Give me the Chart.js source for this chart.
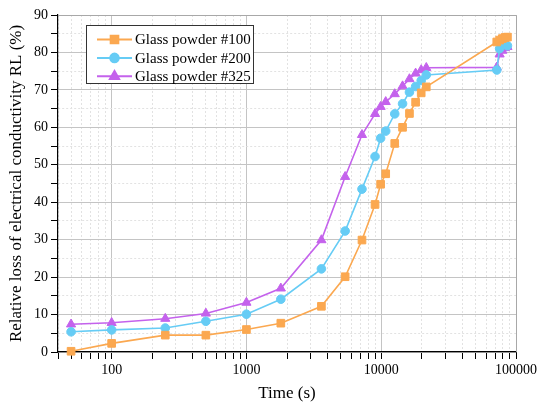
<!DOCTYPE html>
<html>
<head>
<meta charset="utf-8">
<script src="https://cdn.jsdelivr.net/npm/chart.js@4.4.1/dist/chart.umd.min.js"></script>
<style>
    html, body { margin: 0; padding: 0; background: #fff; }
    #wrap { width: 540px; height: 404px; }
</style>
</head>
<body>
<div id="wrap"><canvas id="rlChart" width="540" height="404"></canvas></div>
<script>
// ===== DATA =====
const timeSec = [50, 100, 250, 500, 1000, 1800, 3600, 5400, 7200, 9000, 9900, 10800,
                 12600, 14400, 16200, 18000, 19800, 21600, 72000, 75600, 79200, 82800, 86400];
const rl100 = [0.2, 2.3, 4.5, 4.5, 6.0, 7.7, 12.2, 20.1, 29.9, 39.4, 44.8, 47.6,
               55.7, 60.0, 63.7, 66.7, 69.2, 70.8, 82.8, 83.3, 83.7, 84.0, 84.1];
const rl200 = [5.4, 5.9, 6.4, 8.2, 10.1, 14.1, 22.2, 32.3, 43.5, 52.2, 57.1, 59.0,
               63.6, 66.3, 69.4, 70.9, 72.5, 74.0, 75.3, 81.0, 82.0, 82.3, 81.8];
const rl325 = [7.4, 7.8, 8.9, 10.3, 13.2, 17.0, 29.9, 46.8, 58.0, 63.6, 65.5, 66.8,
               68.9, 71.0, 72.9, 74.4, 75.3, 75.9, 76.0, 79.5, 80.5, 81.2, 81.5];
const seriesNames = ['Glass powder #100', 'Glass powder #200', 'Glass powder #325'];
const xTickLabels = [100, 1000, 10000, 100000];

const colOrange = '#FBA850';
const colBlue = '#66CCF5';
const colPurple = '#C462EC';

const SERIF = '"Liberation Serif", "Times New Roman", serif';

function pts(ys) {
    return timeSec.map((t, i) => ({ x: t, y: ys[i] }));
}

function isDecade(v) {
    const l = Math.log10(v);
    return Math.abs(l - Math.round(l)) < 1e-9;
}

// ===== LEGEND + FRAME PLUGIN =====
const framePlugin = {
    id: 'frame',
    beforeDatasetsDraw(chart) {
        const { ctx, chartArea: a } = chart;
        ctx.save();
        ctx.strokeStyle = '#a8a8a8';
        ctx.lineWidth = 1;
        ctx.beginPath();
        ctx.moveTo(a.left, a.top + 0.5);
        ctx.lineTo(a.right + 0.5, a.top + 0.5);
        ctx.lineTo(a.right + 0.5, a.bottom);
        ctx.stroke();
        ctx.restore();
    },
    afterDraw(chart) {
        const { ctx, chartArea: a } = chart;
        const bx = a.left + 28, by = a.top + 10, bw = 167, bh = 58;
        ctx.save();
        ctx.fillStyle = '#fff';
        ctx.fillRect(bx, by, bw, bh);
        ctx.strokeStyle = '#333';
        ctx.lineWidth = 1;
        ctx.strokeRect(bx + 0.5, by + 0.5, bw, bh);
        chart.data.datasets.forEach((ds, i) => {
            const y = by + 14.5 + i * 18.4;
            const x0 = bx + 11, x1 = bx + 46;
            ctx.strokeStyle = ds.borderColor;
            ctx.lineWidth = 2;
            ctx.beginPath();
            ctx.moveTo(x0, y);
            ctx.lineTo(x1, y);
            ctx.stroke();
            Chart.helpers.drawPoint(ctx, {
                pointStyle: ds.pointStyle,
                radius: ds.pointRadius,
                borderWidth: 1,
                rotation: 0
            }, (x0 + x1) / 2, y);
            ctx.fillStyle = ds.borderColor;
            ctx.fill();
            ctx.fillStyle = '#000';
            ctx.font = '15px ' + SERIF;
            ctx.textBaseline = 'middle';
            ctx.textAlign = 'left';
            ctx.fillText(ds.label, x1 + 3, y + 1);
        });
        ctx.restore();
    }
};

// ===== CHART =====
function mkSet(label, ys, color, style, radius) {
    return {
        label: label,
        data: pts(ys),
        borderColor: color,
        backgroundColor: color,
        pointBackgroundColor: color,
        pointBorderColor: color,
        borderWidth: 1.6,
        pointStyle: style,
        pointRadius: radius,
        pointBorderWidth: 1,
        tension: 0,
        clip: false
    };
}

new Chart(document.getElementById('rlChart'), {
    type: 'line',
    data: {
        datasets: [
            mkSet(seriesNames[0], rl100, colOrange, 'rect', 5.4),
            mkSet(seriesNames[1], rl200, colBlue, 'circle', 4.3),
            mkSet(seriesNames[2], rl325, colPurple, 'triangle', 5.3)
        ]
    },
    options: {
        responsive: false,
        animation: false,
        layout: { padding: { top: 15, right: 23, left: 0, bottom: 0 } },
        plugins: {
            legend: { display: false },
            tooltip: { enabled: false }
        },
        scales: {
            x: {
                type: 'logarithmic',
                min: 40,
                max: 100000,
                afterFit: s => { s.height = 52; },
                afterBuildTicks: s => {
                    const t = [];
                    for (let e = 1; e <= 5; e++) {
                        for (let m = 1; m <= 9; m++) {
                            const v = m * Math.pow(10, e);
                            if (v >= 40 && v <= 100000) t.push({ value: v, major: isDecade(v) });
                        }
                    }
                    s.ticks = t;
                },
                ticks: {
                    autoSkip: false,
                    maxRotation: 0,
                    color: '#000',
                    padding: 3,
                    font: { family: SERIF, size: 14 },
                    callback: v => xTickLabels.includes(v) ? String(v) : ''
                },
                grid: {
                    color: c => (c.tick && isDecade(c.tick.value)) ? '#c4c4c4' : '#e2e2e2',
                    lineWidth: 1,
                    tickColor: '#000',
                    tickLength: 7
                },
                border: {
                    color: '#000',
                    width: 1.2,
                    dash: c => (c.tick && !isDecade(c.tick.value)) ? [2, 2] : []
                },
                title: {
                    display: true,
                    text: 'Time (s)',
                    color: '#000',
                    font: { family: SERIF, size: 17 },
                    padding: { top: 0, bottom: 0 }
                }
            },
            y: {
                min: 0,
                max: 90,
                afterFit: s => { s.width = 58; },
                ticks: {
                    stepSize: 5,
                    autoSkip: false,
                    color: '#000',
                    padding: 3,
                    font: { family: SERIF, size: 14 },
                    callback: v => (v % 10 === 0) ? String(v) : ''
                },
                grid: {
                    color: c => (c.tick && c.tick.value % 10 === 0) ? '#c4c4c4' : '#e2e2e2',
                    lineWidth: 1,
                    tickColor: '#000',
                    tickLength: 7
                },
                border: {
                    color: '#000',
                    width: 1.2,
                    dash: c => (c.tick && c.tick.value % 10 !== 0) ? [2, 2] : []
                },
                title: {
                    display: true,
                    text: 'Relative loss of electrical conductivity RL (%)',
                    color: '#000',
                    font: { family: SERIF, size: 17 },
                    padding: { top: 6, bottom: 0 }
                }
            }
        }
    },
    plugins: [framePlugin]
});
</script>
</body>
</html>
